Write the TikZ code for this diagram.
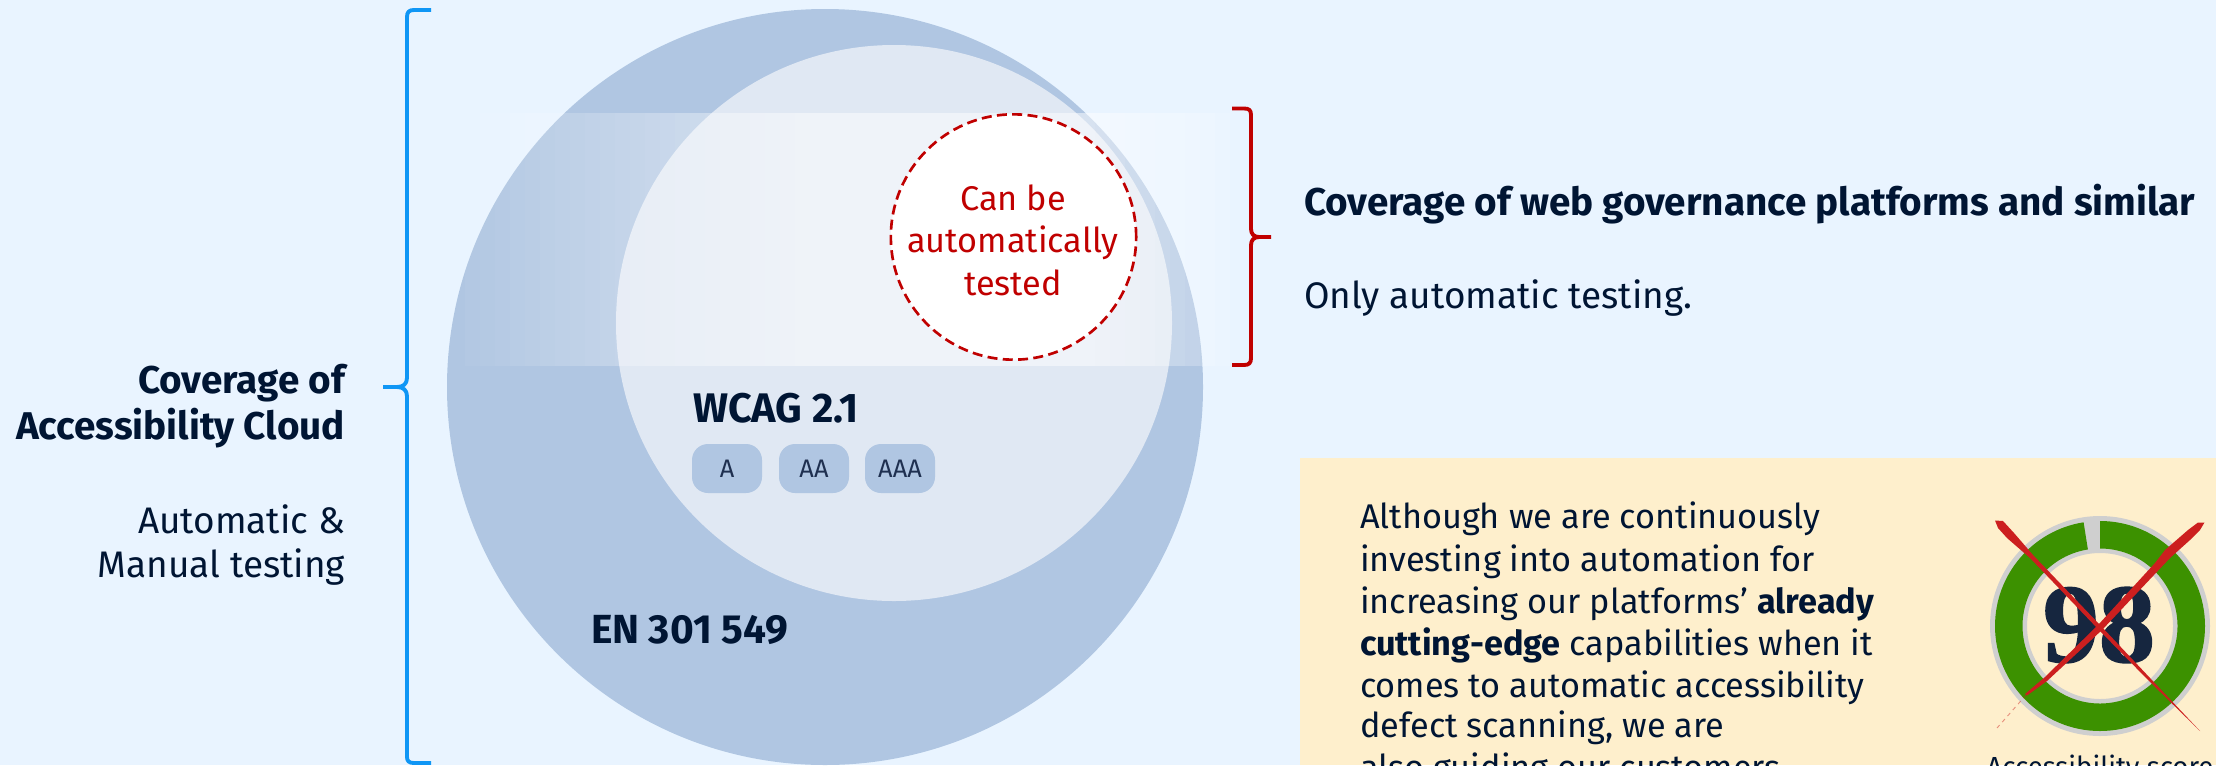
\documentclass[tikz,border=0pt]{standalone}
\usepackage{fontspec}
\setmainfont{Fira Sans}
\newfontfamily\scorefont[BoldFeatures={FakeBold=1.6}]{Liberation Serif}
\definecolor{pagebg}{HTML}{E9F4FF}
\definecolor{enblue}{HTML}{B0C6E2}
\definecolor{wcagblue}{HTML}{E0E8F3}
\definecolor{inkblue}{HTML}{001533}
\definecolor{tagink}{HTML}{1F3050}
\definecolor{scoreink}{HTML}{16263F}
\definecolor{bracketblue}{HTML}{0F96F5}
\definecolor{autored}{HTML}{C00000}
\definecolor{noteyellow}{HTML}{FEEFCC}
\definecolor{ringgrey}{HTML}{CFCFCF}
\definecolor{ringgreen}{HTML}{3C9100}
\definecolor{crossred}{HTML}{CC1F1F}
\newcommand\fs[1]{\fontsize{#1}{#1}\selectfont}
\tikzset{%
   txt/.style={inner sep=0pt, outer sep=0pt, text=inkblue, font=\fs{25.7}},
   side/.style={txt, font=\fs{27.7}},
   head/.style={txt, font=\fs{29}\bfseries},
   level/.style={rectangle, rounded corners=12pt, fill=enblue, text=tagink, inner sep=0pt,
      minimum width=52.5pt, minimum height=36.75pt, font=\fs{19}},
   brace/.style={line width=2.9pt, line join=round},
}
\begin{document}
\begin{tikzpicture}[x=.75pt, y=-.75pt]
   \useasboundingbox (0,0) rectangle (2216,765);
   \clip (0,0) rectangle (2216,765);
   \fill[pagebg] (0,0) rectangle (2216,765);
   % circles
   \fill[enblue] (825,387) circle (378);
   \fill[wcagblue] (894,323) circle (278);
   \foreach \i in {0,...,52} {
      \pgfmathsetmacro\px{450+15*\i+7.5}
      \pgfmathsetmacro\op{max(0,min(min((\px-450)*.15/90, .15+(\px-540)*.0013), min(.5, min(.25+(1190-\px)*.0025, (1240-\px)*.3/50))))}
      \fill[white, fill opacity=\op] ({450+15*\i},113) rectangle ({465+15*\i},366);
   }
   \node[circle, draw=autored, fill=white, line width=2pt, dashed, dash pattern=on 7.5pt off 4pt,
      minimum size=184pt, inner sep=0pt] (auto) at (1013.5,237) {};
   \node[txt, text=autored, anchor=base] (auto1) at (1013,210) {Can be};
   \node[txt, text=autored, anchor=base] (auto2) at (1013,252) {automatically};
   \node[txt, text=autored, anchor=base] (auto3) at (1013,295) {tested};
   % levels
   \node[head, font=\fs{31}\bfseries, anchor=base west] (wcag) at (693,422) {WCAG 2.1};
   \node[level] (la) at (727,468.5) {A};
   \node[level] (laa) at (814,468.5) {AA};
   \node[level] (laaa) at (900,468.5) {AAA};
   \node[head, font=\fs{30.5}\bfseries, anchor=base west] (en) at (591,643) {EN 301 549};
   % brackets
   \draw[brace, bracketblue] (431,10) -- (414,10) .. controls (409,10) and (407,12) .. (407,17)
      -- (407,378) .. controls (407,384) and (403,387) .. (397,387) -- (383,387)
      (397,387) .. controls (403,387) and (407,390) .. (407,396)
      -- (407,757) .. controls (407,761) and (409,763) .. (414,763) -- (431,763);
   \draw[brace, autored] (1232,108.5) -- (1244,108.5) .. controls (1249,108.5) and (1251,110) .. (1251,115)
      -- (1251,229) .. controls (1251,234) and (1254,237) .. (1259,237) -- (1271,237)
      (1259,237) .. controls (1254,237) and (1251,240) .. (1251,245)
      -- (1251,358) .. controls (1251,363) and (1249,365) .. (1244,365) -- (1232,365);
   % left text
   \node[head, anchor=base east] (cov1) at (345,393) {Coverage of};
   \node[head, anchor=base east] (cov2) at (345,439) {Accessibility Cloud};
   \node[side, anchor=base east] (man1) at (345,533) {Automatic \&};
   \node[side, anchor=base east] (man2) at (345,577) {Manual testing};
   % right text
   \node[head, anchor=base west] (web) at (1304,215) {Coverage of web governance platforms and similar};
   \node[side, anchor=base west] (only) at (1304,308) {Only automatic testing.};
   % note
   \fill[noteyellow] (1300,458) rectangle (2216,765);
   \node[txt, anchor=base west] (n1) at (1360,528) {Although we are continuously};
   \node[txt, anchor=base west] (n2) at (1360,571) {investing into automation for};
   \node[txt, anchor=base west] (n3) at (1360,613) {increasing our platforms’ \textbf{already}};
   \node[txt, anchor=base west] (n4) at (1360,655) {\textbf{cutting-edge} capabilities when it};
   \node[txt, anchor=base west] (n5) at (1360,697) {comes to automatic accessibility};
   \node[txt, anchor=base west] (n6) at (1360,737) {defect scanning, we are};
   \node[txt, anchor=base west] (n7) at (1360,779) {also guiding our customers};
   % score
   \fill[ringgrey, even odd rule] (2100,626) circle (110) (2100,626) circle (73);
   \fill[ringgreen] (2100,521) arc[start angle=-90, end angle=261, radius=105]
      -- ++(261:-27.5) arc[start angle=261, end angle=-90, radius=77.5] -- cycle;
   \node[inner sep=0pt, text=scoreink, font=\fs{84}\scorefont\bfseries] (score) at (2099,625) {98};
   \fill[crossred] (1995,520.5) -- (2003,521) -- (2014,533) -- (2033,555) -- (2100,625) -- (2150,678)
      -- (2200,731) -- (2148,680) -- (2098,629) -- (2030,558) -- (2007,538) -- (1998,528) -- cycle;
   \fill[crossred] (2204.5,522.5) -- (2198,522.5) -- (2188,530) -- (2165,550) -- (2155,563) -- (2098,625)
      -- (2045,677) -- (2025,694) -- (2027,695.5) -- (2047,681) -- (2102,630) -- (2170,558)
      -- (2190,540) -- (2200,530) -- cycle;
   \draw[crossred, opacity=.45, line width=.7pt, dashed] (2026,695) -- (1997,728);
   \node[txt, font=\fs{20.7}, anchor=base] (scoretxt) at (2100,776) {Accessibility score};
\end{tikzpicture}
\end{document}
